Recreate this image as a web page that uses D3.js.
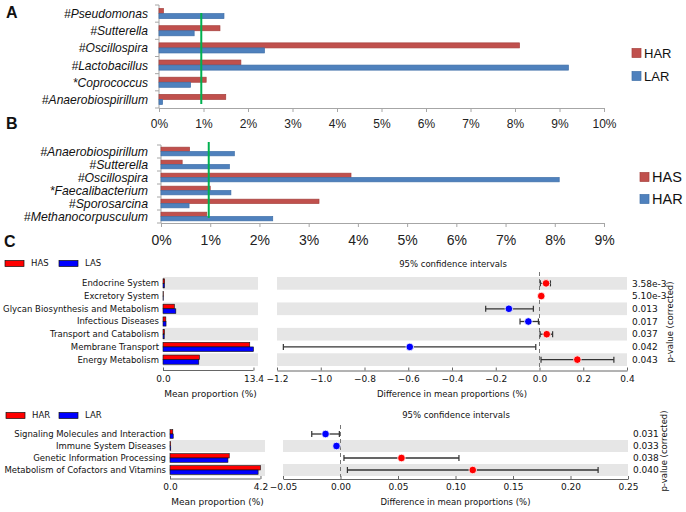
<!DOCTYPE html>
<html><head><meta charset="utf-8">
<script src="https://cdn.jsdelivr.net/npm/d3@7"></script>
<style>body{margin:0;background:#fff} svg{display:block}</style>
</head><body>
<svg id="c" width="686" height="512"></svg>
<script>
// ---------- Panel A ----------
const genusA = ["#Pseudomonas","#Sutterella","#Oscillospira","#Lactobacillus","*Coprococcus","#Anaerobiospirillum"];
const harA = [0.10, 1.37, 8.10, 1.84, 1.06, 1.50];
const larA = [1.46, 0.79, 2.37, 9.20, 0.71, 0.08];
const ticksA = [0,1,2,3,4,5,6,7,8,9,10];
const refA = 0.95;
const seriesA = ["HAR","LAR"];
// ---------- Panel B ----------
const genusB = ["#Anaerobiospirillum","#Sutterella","#Oscillospira","*Faecalibacterium","#Sporosarcina","#Methanocorpusculum"];
const hasB = [0.58, 0.43, 3.86, 1.00, 3.21, 0.93];
const harB = [1.49, 1.39, 8.09, 1.42, 0.57, 2.27];
const ticksB = [0,1,2,3,4,5,6,7,8,9];
const refB = 0.97;
const seriesB = ["HAS","HAR"];
// ---------- Panel C (top) ----------
const pathC1 = ["Endocrine System","Excretory System","Glycan Biosynthesis and Metabolism","Infectious Diseases","Transport and Catabolism","Membrane Transport","Energy Metabolism"];
const hasC1 = [0.25, 0.05, 1.68, 0.42, 0.22, 12.85, 5.40];
const lasC1 = [0.22, 0.04, 1.90, 0.45, 0.18, 13.40, 5.30];
const diffC1 = [0.030, 0.008, -0.140, -0.051, 0.033, -0.593, 0.173];
const loC1 = [0.004, 0.004, -0.246, -0.089, 0.003, -1.171, 0.007];
const hiC1 = [0.050, 0.012, -0.028, -0.005, 0.060, -0.017, 0.340];
const pC1 = ["3.58e-3","5.10e-3","0.013","0.017","0.037","0.042","0.043"];
const ticksC1 = [-1.2,-1.0,-0.8,-0.6,-0.4,-0.2,0.0,0.2,0.4];
const seriesC1 = ["HAS","LAS"];
// ---------- Panel C (bottom) ----------
const pathC2 = ["Signaling Molecules and Interaction","Immune System Diseases","Genetic Information Processing","Metabolism of Cofactors and Vitamins"];
const harC2 = [0.13, 0.03, 2.75, 4.20];
const larC2 = [0.15, 0.035, 2.69, 4.09];
const diffC2 = [-0.013, -0.0035, 0.053, 0.115];
const loC2 = [-0.025, -0.006, 0.003, 0.006];
const hiC2 = [-0.001, -0.001, 0.103, 0.224];
const pC2 = ["0.031","0.033","0.038","0.040"];
const ticksC2 = [-0.05,0.00,0.05,0.10,0.15,0.20,0.25];
const seriesC2 = ["HAR","LAR"];

const svg = d3.select("#c");
const RED = "#C0504D", BLUE = "#4F81BD", GREEN = "#00B050";
const AR = "'Liberation Sans', Arial, sans-serif";
const DJ = "'DejaVu Sans', sans-serif";

function excel(o){
  const g = svg.append("g");
  const x = d3.scaleLinear().domain([0, o.max]).range([o.x0, o.x1]);
  const y = d3.scaleBand().domain(o.cats).range([o.y0, o.y1]);
  const sub = d3.scaleBand().domain([0,1]).range([0, y.bandwidth()]).paddingOuter(o.pad);
  const xa = g.append("g").attr("transform", `translate(0,${o.y1})`)
    .call(d3.axisBottom(x).tickValues(o.ticks).tickFormat(d => d + "%").tickSizeOuter(0).tickSize(4).tickPadding(o.tp));
  xa.select(".domain").attr("stroke", "#a6a6a6");
  xa.selectAll(".tick line").attr("stroke", "#a6a6a6");
  xa.selectAll("text").attr("font-family", AR).attr("font-size", o.tfs).attr("fill", "#222");
  g.append("line").attr("x1", o.x0).attr("x2", o.x0).attr("y1", o.y0).attr("y2", o.y1).attr("stroke", "#a6a6a6");
  const edges = o.cats.map(c => y(c)).concat([o.y1]);
  g.selectAll(".yt").data(edges).join("line").attr("x1", o.x0 - 4).attr("x2", o.x0)
    .attr("y1", d => d).attr("y2", d => d).attr("stroke", "#a6a6a6");
  g.selectAll(".yl").data(o.cats).join("text")
    .attr("transform", d => `translate(${o.lx},${y(d) + y.bandwidth()/2}) scale(${o.lsx},1)`).attr("dy", "0.35em")
    .attr("text-anchor", "end").attr("font-family", AR).attr("font-style", "italic")
    .attr("font-size", o.lfs).attr("fill", "#111").text(d => d);
  [o.s1, o.s2].forEach((s, k) => {
    g.selectAll(".b" + k).data(s).join("rect")
      .attr("x", x(0)).attr("y", (d, i) => y(o.cats[i]) + sub(k))
      .attr("width", d => x(d) - x(0)).attr("height", sub.bandwidth())
      .attr("fill", k ? BLUE : RED).attr("stroke", k ? "#3F6FA8" : "#A5403D").attr("stroke-width", 0.7);
  });
  g.append("line").attr("x1", x(o.ref)).attr("x2", x(o.ref)).attr("y1", o.gy0).attr("y2", o.gy1)
    .attr("stroke", GREEN).attr("stroke-width", 2);
  o.names.forEach((n, k) => {
    g.append("rect").attr("x", o.legx).attr("y", o.legy + k*o.legdy - 4.5).attr("width", 9).attr("height", 9)
      .attr("fill", k ? BLUE : RED).attr("stroke", k ? "#3F6FA8" : "#A5403D").attr("stroke-width", 0.7);
    g.append("text").attr("x", o.legx + 12).attr("y", o.legy + k*o.legdy).attr("dy", "0.36em")
      .attr("font-family", AR).attr("font-size", o.legfs).attr("fill", "#111").text(n);
  });
}

excel({cats: genusA, s1: harA, s2: larA, max: 10, x0: 159, x1: 604, y0: 5, y1: 108, pad: 0.7,
  ticks: ticksA, tp: 7, tfs: 12, lx: 148, lfs: 13, lsx: 0.93, ref: refA, gy0: 13, gy1: 104,
  names: seriesA, legx: 632, legy: 53, legdy: 23, legfs: 13});
excel({cats: genusB, s1: hasB, s2: harB, max: 9, x0: 161, x1: 604, y0: 145, y1: 223, pad: 0.5,
  ticks: ticksB, tp: 8, tfs: 14, lx: 148, lfs: 12.8, lsx: 0.96, ref: refB, gy0: 142, gy1: 218,
  names: seriesB, legx: 640, legy: 177, legdy: 22, legfs: 14.5});

[["A", 6, 18], ["B", 6, 129], ["C", 4, 247]].forEach(([t, x, y]) =>
  svg.append("text").attr("x", x).attr("y", y).attr("font-family", AR).attr("font-weight", "bold")
    .attr("font-size", 16).attr("fill", "#111").text(t));

function stamp(o){
  const g = svg.append("g");
  const mx = d3.max(o.m1.concat(o.m2));
  const xl = d3.scaleLinear().domain([0, mx * 1.05]).range([o.lx0, o.lx1]);
  const xr = d3.scaleLinear().domain(o.rdom).range([o.rx0, o.rx1]);
  const y = d3.scaleBand().domain(o.cats).range([o.y0, o.y1]);
  const n = o.cats.length;
  const bh = y.bandwidth() * 0.36;
  o.cats.forEach((c, i) => {
    if ((n - 1 - i) % 2 === 0) {
      g.append("rect").attr("x", o.lx0).attr("y", y(c)).attr("width", o.lx1 - o.lx0).attr("height", y.bandwidth()).attr("fill", "#e6e6e6");
      g.append("rect").attr("x", o.rx0).attr("y", y(c)).attr("width", o.rx1 - o.rx0).attr("height", y.bandwidth()).attr("fill", "#e6e6e6");
    }
  });
  g.selectAll(".lab").data(o.cats).join("text").attr("x", o.labx).attr("y", d => y(d) + y.bandwidth()/2).attr("dy", "0.35em")
    .attr("text-anchor", "end").attr("font-family", DJ).attr("font-size", o.fs).attr("fill", "#111").text(d => d);
  [o.m1, o.m2].forEach((s, k) => {
    g.selectAll(".mb" + k).data(s).join("rect")
      .attr("x", xl(0)).attr("y", (d, i) => y(o.cats[i]) + y.bandwidth()/2 - bh + k*bh)
      .attr("width", d => xl(d) - xl(0)).attr("height", bh)
      .attr("fill", k ? "#0000ff" : "#ff0000").attr("stroke", "#111").attr("stroke-width", 0.6);
  });
  const la = g.append("g").attr("transform", `translate(0,${o.ay})`)
    .call(d3.axisBottom(xl).tickValues([0, mx]).tickFormat(d3.format(".1f")).tickSizeInner(-3).tickSizeOuter(0).tickPadding(5));
  la.select(".domain").attr("d", `M${xl(0)},0H${xl(mx)}`).attr("stroke", "#666");
  la.selectAll(".tick line").attr("stroke", "#666");
  la.selectAll("text").attr("font-family", DJ).attr("font-size", o.fs + 0.5).attr("fill", "#111");
  g.append("text").attr("x", (o.lx0 + o.lx1)/2).attr("y", o.ay + 26).attr("text-anchor", "middle")
    .attr("font-family", DJ).attr("font-size", o.fs + 0.5).attr("fill", "#111").text("Mean proportion (%)");
  const ra = g.append("g").attr("transform", `translate(0,${o.ay})`)
    .call(d3.axisBottom(xr).tickValues(o.ticks).tickFormat(d3.format(o.fmt)).tickSizeInner(-3).tickSizeOuter(0).tickPadding(5));
  ra.select(".domain").attr("stroke", "#666");
  ra.selectAll(".tick line").attr("stroke", "#666");
  ra.selectAll("text").attr("font-family", DJ).attr("font-size", o.fs + 0.5).attr("fill", "#111");
  g.append("text").attr("x", (o.rx0 + o.rx1)/2).attr("y", o.ay + 26).attr("text-anchor", "middle")
    .attr("font-family", DJ).attr("font-size", o.fs).attr("fill", "#111").text("Difference in mean proportions (%)");
  g.append("text").attr("x", o.ttlx).attr("y", o.ttly).attr("text-anchor", "middle")
    .attr("font-family", DJ).attr("font-size", o.fs).attr("fill", "#111").text("95% confidence intervals");
  g.append("line").attr("x1", xr(0)).attr("x2", xr(0)).attr("y1", o.zy0).attr("y2", o.zy1)
    .attr("stroke", "#777").attr("stroke-dasharray", "4,3").attr("stroke-width", 1);
  o.cats.forEach((c, i) => {
    const cy = y(c) + y.bandwidth()/2;
    g.append("line").attr("x1", xr(o.lo[i])).attr("x2", xr(o.hi[i])).attr("y1", cy).attr("y2", cy).attr("stroke", "#333").attr("stroke-width", 1.3);
    [o.lo[i], o.hi[i]].forEach(v => g.append("line").attr("x1", xr(v)).attr("x2", xr(v)).attr("y1", cy - 3).attr("y2", cy + 3).attr("stroke", "#333").attr("stroke-width", 1.2));
    g.append("circle").attr("cx", xr(o.diff[i])).attr("cy", cy).attr("r", 3.8)
      .attr("fill", o.diff[i] > 0 ? "#ff0000" : "#0000ff").attr("stroke", "#fff").attr("stroke-width", 0.8);
    g.append("text").attr("x", o.px).attr("y", cy).attr("dy", "0.35em").attr("font-family", DJ).attr("font-size", o.fs + 0.5)
      .attr("fill", "#111").text(o.p[i]);
  });
  g.append("text").attr("transform", `translate(${o.pvx},${o.pvy}) rotate(-90)`).attr("text-anchor", "middle")
    .attr("font-family", DJ).attr("font-size", o.fs).attr("fill", "#111").text("p-value (corrected)");
  o.names.forEach((nm, k) => {
    g.append("rect").attr("x", o.legx[k]).attr("y", o.legy - 3).attr("width", 19).attr("height", 6)
      .attr("fill", k ? "#0000ff" : "#ff0000").attr("stroke", "#111").attr("stroke-width", 0.7);
    g.append("text").attr("x", o.legx[k] + 26).attr("y", o.legy).attr("dy", "0.35em")
      .attr("font-family", DJ).attr("font-size", o.fs).attr("fill", "#111").text(nm);
  });
}

stamp({cats: pathC1, m1: hasC1, m2: lasC1, diff: diffC1, lo: loC1, hi: hiC1, p: pC1,
  lx0: 163, lx1: 258, rx0: 277, rx1: 627, rdom: [-1.2, 0.4], ticks: ticksC1, fmt: ".1f",
  y0: 277, y1: 366, ay: 370.5, labx: 159, fs: 8.5, px: 632, pvx: 673, pvy: 322,
  ttlx: 453, ttly: 267, zy0: 272, zy1: 368, names: seriesC1, legx: [5, 59], legy: 263.5});
stamp({cats: pathC2, m1: harC2, m2: larC2, diff: diffC2, lo: loC2, hi: hiC2, p: pC2,
  lx0: 170, lx1: 265, rx0: 283, rx1: 628, rdom: [-0.05, 0.25], ticks: ticksC2, fmt: ".2f",
  y0: 428, y1: 476, ay: 479, labx: 166, fs: 8.5, px: 633, pvx: 667, pvy: 451,
  ttlx: 456, ttly: 418, zy0: 425, zy1: 477, names: seriesC2, legx: [6, 59], legy: 415.5});
</script>
</body></html>
